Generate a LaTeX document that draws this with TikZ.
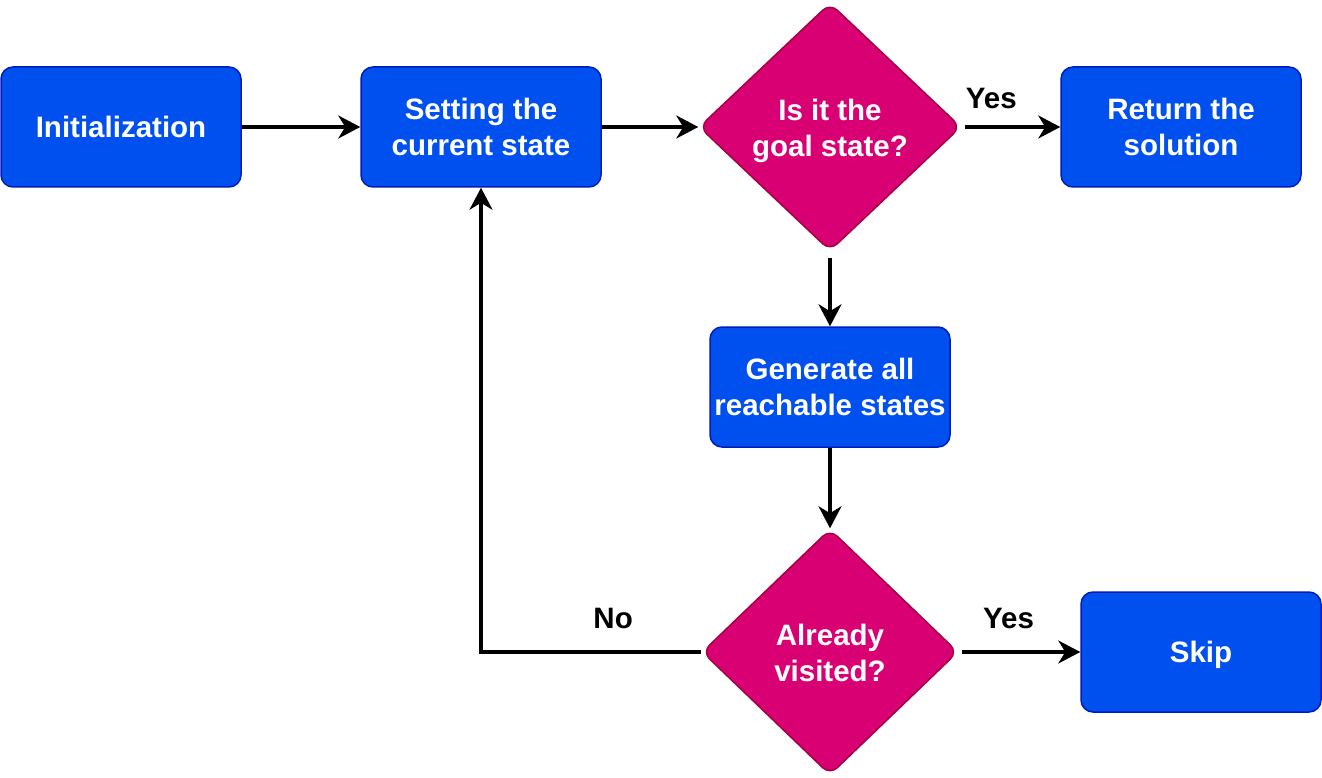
\documentclass[tikz,border=0pt]{standalone}
\usepackage{fontspec}
\setmainfont{Liberation Sans}
\usetikzlibrary{shapes.geometric,arrows.meta}
\definecolor{boxfill}{HTML}{0050EF}
\definecolor{boxline}{HTML}{001DBC}
\definecolor{decfill}{HTML}{D80073}
\definecolor{decline}{HTML}{A50040}
\begin{document}
\begin{tikzpicture}[x=1pt,y=-1pt,
  txt/.style={font=\fontsize{29.5}{36}\selectfont\bfseries},
  box/.style={txt, draw=boxline, fill=boxfill, line width=1.5pt, rounded corners=12pt,
    minimum width=240pt, minimum height=120pt, inner sep=0pt, align=center, text=white},
  dec/.style={diamond, draw=decline, fill=decfill, line width=1.5pt, rounded corners=10pt,
    inner sep=0pt},
  dectext/.style={txt, text=white, align=center, inner sep=0pt},
  arr/.style={line width=3.2pt, -{Stealth[length=22pt,width=23pt,inset=7pt]}},
  lbl/.style={txt, text=black}]
\useasboundingbox (0,0) rectangle (1322,778);
\node[box] (init) at (121,127) {Initialization};
\node[box] (set) at (481,127) {Setting the\\current state};
\node[dec, minimum width=262pt, minimum height=248pt,
  label={[dectext, yshift=-4pt]center:Is it the\\goal state?}] (d1) at (830,127) {};
\node[box] (ret) at (1181,127) {Return the\\solution};
\node[box] (gen) at (830,387) {Generate all\\reachable states};
\node[dec, minimum width=256pt, minimum height=246pt,
  label={[dectext, yshift=-1pt]center:Already\\visited?}] (d2) at (830,652) {};
\node[box, text depth=0pt] (skip) at (1201,652) {Skip};
\draw[arr] (init.east) -- (set.west);
\draw[arr] (set.east) -- (d1.west);
\draw[arr, shorten <=3pt] (d1.east) -- node[lbl, pos=0.3, yshift=29pt] {Yes} (ret.west);
\draw[arr, shorten <=6pt] (d1.south) -- (gen.north);
\draw[arr] (gen.south) -- (d2.north);
\draw[arr, shorten <=3pt] (d2.east) -- node[lbl, pos=0.41, yshift=34pt] {Yes} (skip.west);
\draw[arr] (d2.west) -| node[lbl, pos=0.2, yshift=34pt] {No} (set.south);
\end{tikzpicture}
\end{document}
